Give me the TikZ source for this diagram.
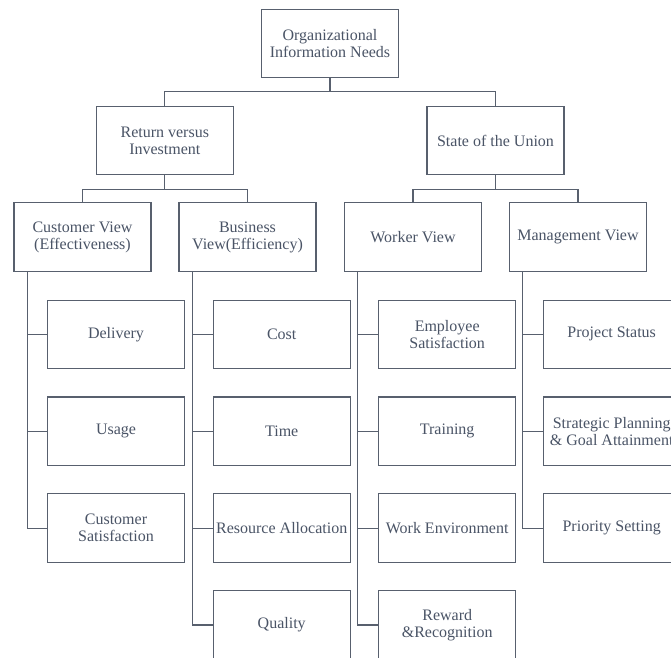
\documentclass[tikz,border=0pt]{standalone}
\usepackage{fontspec}
\setmainfont{Liberation Serif}
\definecolor{edgegray}{RGB}{88,96,110}
\definecolor{textgray}{RGB}{74,84,102}
\begin{document}
\begin{tikzpicture}[x=1pt,y=-1pt,
  box/.style={draw=edgegray,line width=1.1pt,fill=white,minimum width=137pt,minimum height=68.5pt,
    inner sep=0pt,align=center,text=textgray,font=\fontsize{16pt}{17pt}\selectfont},
  link/.style={draw=edgegray,line width=1.1pt}]
\useasboundingbox (0,0) rectangle (671,657);
\clip (0,0) rectangle (671,657);
\fill[white] (0,0) rectangle (671,657);

% top levels
\node[box] (root) at (330,43.5) {Organizational\\Information Needs};
\node[box] (rvi)  at (164.8,140.5) {Return versus\\Investment};
\node[box] (sotu) at (495.5,140.5) {State of the Union};

% views
\node[box] (cv) at (82.5,237) {Customer View\\(Effectiveness)};
\node[box] (bv) at (247.5,237) {Business\\View(Efficiency)};
\node[box] (wv) at (413,237) {Worker View};
\node[box] (mv) at (578,237) {Management View};

% customer view items
\node[box] (del) at (116,334.3) {Delivery};
\node[box] (usa) at (116,431.2) {Usage};
\node[box] (csat) at (116,528.1) {Customer\\Satisfaction};

% business view items
\node[box] (cost) at (281.7,334.3) {Cost};
\node[box] (time) at (281.7,431.2) {Time};
\node[box] (res)  at (281.7,528.1) {Resource Allocation};
\node[box] (qual) at (281.7,625) {Quality};

% worker view items
\node[box] (esat) at (447.2,334.3) {Employee\\Satisfaction};
\node[box] (train) at (447.2,431.2) {Training};
\node[box] (wenv) at (447.2,528.1) {Work Environment};
\node[box] (rew) at (447.2,625) {Reward\\\&Recognition};

% management view items
\node[box] (pstat) at (611.7,334.3) {Project Status};
\node[box] (strat) at (611.7,431.2) {Strategic Planning\\\& Goal Attainment};
\node[box] (prio) at (611.7,528.1) {Priority Setting};

% tree connectors
\draw[link] (root.south) -- ++(0,13.2) -| (rvi.north);
\draw[link] (root.south) -- ++(0,13.2) -| (sotu.north);
\draw[link] (rvi.south) -- ++(0,14.5) -| (cv.north);
\draw[link] (rvi.south) -- ++(0,14.5) -| (bv.north);
\draw[link] (sotu.south) -- ++(0,14.5) -| (wv.north);
\draw[link] (sotu.south) -- ++(0,14.5) -| (mv.north);

% side trunks
\coordinate (cvt) at ([xshift=13.7pt]cv.south west);
\coordinate (bvt) at ([xshift=13.7pt]bv.south west);
\coordinate (wvt) at ([xshift=13.7pt]wv.south west);
\coordinate (mvt) at ([xshift=13.7pt]mv.south west);
\draw[link] (cvt) |- (csat.west);
\draw[link] (bvt) |- (qual.west);
\draw[link] (wvt) |- (rew.west);
\draw[link] (mvt) |- (prio.west);
\foreach \n in {del,usa} \draw[link] (\n.west) -- (\n.west -| cvt);
\foreach \n in {cost,time,res} \draw[link] (\n.west) -- (\n.west -| bvt);
\foreach \n in {esat,train,wenv} \draw[link] (\n.west) -- (\n.west -| wvt);
\foreach \n in {pstat,strat} \draw[link] (\n.west) -- (\n.west -| mvt);
\end{tikzpicture}
\end{document}
